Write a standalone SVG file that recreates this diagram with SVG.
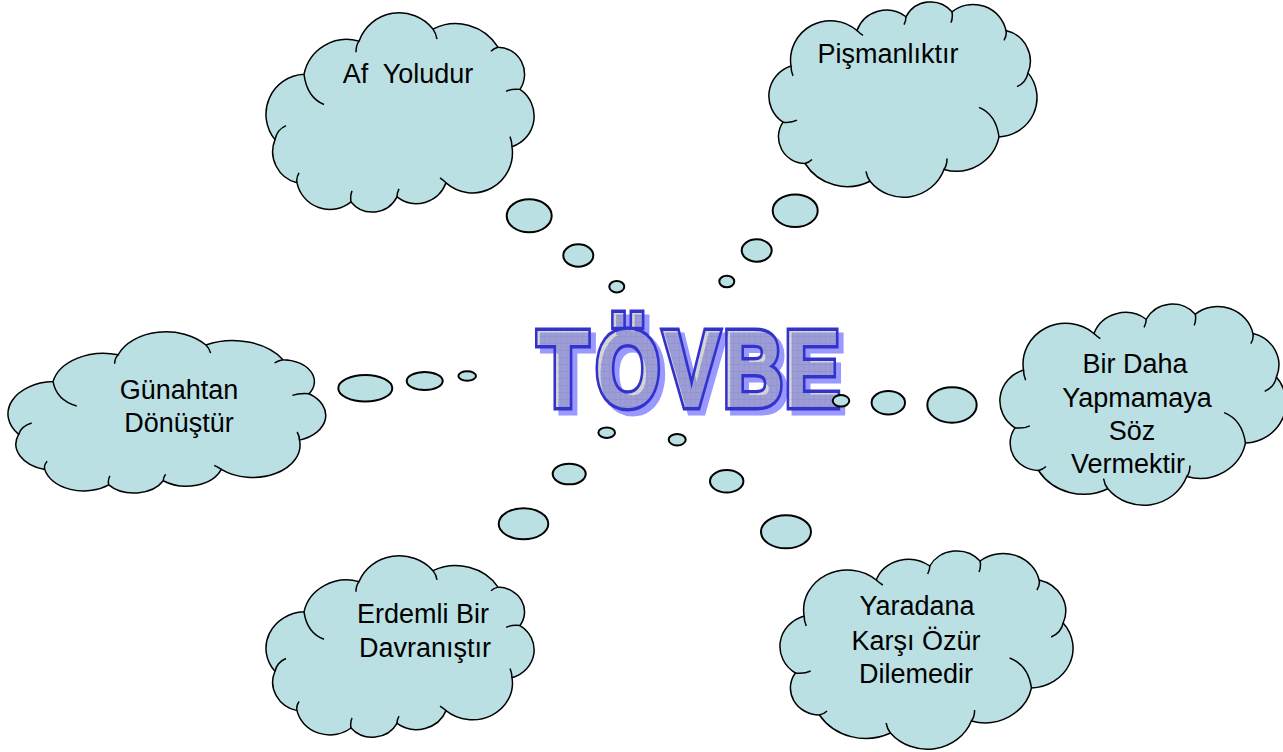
<svg xmlns="http://www.w3.org/2000/svg" width="1283" height="752" viewBox="0 0 1283 752">
<style>
.cf{fill:#bbe0e3;stroke:#000;stroke-width:1.5}
.cs{fill:none;stroke:#000;stroke-width:1.5}
.lbl{font-family:"Liberation Sans",Arial,sans-serif;font-size:27px;fill:#000;text-anchor:middle}
.bub{fill:#bbe0e3;stroke:#000;stroke-width:2}
.tv{font-family:"Liberation Sans",Arial,sans-serif;font-weight:bold;font-size:108px}
</style>
<defs>
<path id="cl" vector-effect="non-scaling-stroke" d="M9,126 A39.8,39.8 0 0 1 38,61 A43.6,43.6 0 0 1 93,28 A43,43 0 0 1 167,16 A50,50 0 0 1 232,34 A27,27 0 0 1 254,76 A32,32 0 0 1 246,133 A40,40 0 0 1 180,169 A31.5,31.5 0 0 1 131,183 A27.7,27.7 0 0 1 85,188 A33.6,33.6 0 0 1 31,169 A32,32 0 0 1 9,126 Z"/>
<path id="cs" vector-effect="non-scaling-stroke" d="M38,61 Q41,84 58,91 M9,126 Q11,116 20,112 M31,169 Q30,164 33,159 M85,188 Q84,182 86,177 M93,28 Q90,32 90,39 M167,16 Q170,20 171,26 M232,34 Q228,35 225,38 M254,76 Q246,75 240,78 M246,133 Q246,128 244,123 M180,169 Q177,166 174,164 M131,183 Q131,179 133,175"/>
<pattern id="grid" patternUnits="userSpaceOnUse" width="7" height="7">
<rect width="7" height="7" fill="#a2a2a2"/>
<path d="M0,0.5H7M0.5,0V7" stroke="#8a8a8a" stroke-width="1"/>
</pattern>
<text id="tvb" class="tv" vector-effect="non-scaling-stroke" x="698 773.5 862 939 1019" y="406">TÖVBE</text>
<mask id="ringm" maskUnits="userSpaceOnUse" x="0" y="0" width="1283" height="752">
<rect width="1283" height="752" fill="#fff"/>
<use href="#tvb" transform="scale(0.77,1)" fill="#000" stroke="#000" stroke-width="2"/>
</mask>
</defs>
<rect width="1283" height="752" fill="#fff"/>

<g id="cloud-af">
<use href="#cl" class="cf" transform="translate(266,13) scale(1,1.005)"/>
<use href="#cs" class="cs" transform="translate(266,13) scale(1,1.005)"/>
<text class="lbl" x="408" y="83" xml:space="preserve" style="white-space:pre">Af  Yoludur</text>
</g>

<g id="cloud-pisman">
<use href="#cl" class="cf" transform="translate(1037,197) scale(-1,-0.985)"/>
<use href="#cs" class="cs" transform="translate(1037,197) scale(-1,-0.985)"/>
<text class="lbl" x="888" y="63">Pişmanlıktır</text>
</g>

<g id="cloud-gunahtan">
<use href="#cl" class="cf" transform="translate(8,332) scale(1.185,0.813)"/>
<use href="#cs" class="cs" transform="translate(8,332) scale(1.185,0.813)"/>
<text class="lbl" x="179" y="399">Günahtan</text>
<text class="lbl" x="179" y="432">Dönüştür</text>
</g>

<g id="cloud-birdaha">
<use href="#cl" class="cf" transform="translate(1286,505) scale(-1.067,-1.015)"/>
<use href="#cs" class="cs" transform="translate(1286,505) scale(-1.067,-1.015)"/>
<text class="lbl" x="1135" y="373">Bir Daha</text>
<text class="lbl" x="1137" y="407">Yapmamaya</text>
<text class="lbl" x="1132" y="440">Söz</text>
<text class="lbl" x="1128" y="473">Vermektir</text>
</g>

<g id="cloud-erdemli">
<use href="#cl" class="cf" transform="translate(266,556) scale(1.0,0.915)"/>
<use href="#cs" class="cs" transform="translate(266,556) scale(1.0,0.915)"/>
<text class="lbl" x="423" y="623">Erdemli Bir</text>
<text class="lbl" x="425" y="657">Davranıştır</text>
</g>

<g id="cloud-yaradana">
<use href="#cl" class="cf" transform="translate(1073,749) scale(-1.093,-1)"/>
<use href="#cs" class="cs" transform="translate(1073,749) scale(-1.093,-1)"/>
<text class="lbl" x="917" y="615">Yaradana</text>
<text class="lbl" x="916" y="650">Karşı Özür</text>
<text class="lbl" x="916" y="683">Dilemedir</text>
</g>

<g id="title">
<use href="#tvb" transform="translate(5,5) scale(0.77,1)" fill="#9999ff" stroke="#9999ff" stroke-width="8"/>
<g opacity="0.42"><use href="#tvb" transform="scale(0.77,1)" fill="url(#grid)" stroke="url(#grid)" stroke-width="2"/></g>
<g mask="url(#ringm)"><use href="#tvb" transform="scale(0.77,1)" fill="none" stroke="#3333cc" stroke-width="8"/></g>
</g>

<g id="connectors">
<ellipse class="bub" cx="529.2" cy="215.8" rx="22.5" ry="16.5"/>
<ellipse class="bub" cx="578.3" cy="255.5" rx="15" ry="11.2"/>
<ellipse class="bub" cx="616.8" cy="286.7" rx="7.5" ry="5.7"/>
<ellipse class="bub" cx="795.2" cy="210.7" rx="22.5" ry="16.3"/>
<ellipse class="bub" cx="756.7" cy="250.5" rx="15" ry="11.2"/>
<ellipse class="bub" cx="726.8" cy="281.5" rx="7.5" ry="5.8"/>
<ellipse class="bub" cx="365.3" cy="388.3" rx="27" ry="13.3"/>
<ellipse class="bub" cx="424.7" cy="381" rx="18" ry="9"/>
<ellipse class="bub" cx="467.2" cy="376" rx="8.8" ry="4.7"/>
<ellipse class="bub" cx="841" cy="400.8" rx="8.3" ry="5.8"/>
<ellipse class="bub" cx="888.3" cy="402.7" rx="16.7" ry="11.7"/>
<ellipse class="bub" cx="952" cy="405" rx="24.7" ry="17.7"/>
<ellipse class="bub" cx="606.7" cy="432.7" rx="8.3" ry="5.3"/>
<ellipse class="bub" cx="569.2" cy="474" rx="16.5" ry="10.3"/>
<ellipse class="bub" cx="523.5" cy="523.8" rx="24.8" ry="15.5"/>
<ellipse class="bub" cx="677.2" cy="439.7" rx="8.5" ry="5.7"/>
<ellipse class="bub" cx="726.7" cy="481.3" rx="16.7" ry="11.3"/>
<ellipse class="bub" cx="786" cy="531.8" rx="25" ry="16.5"/>
</g>
</svg>
